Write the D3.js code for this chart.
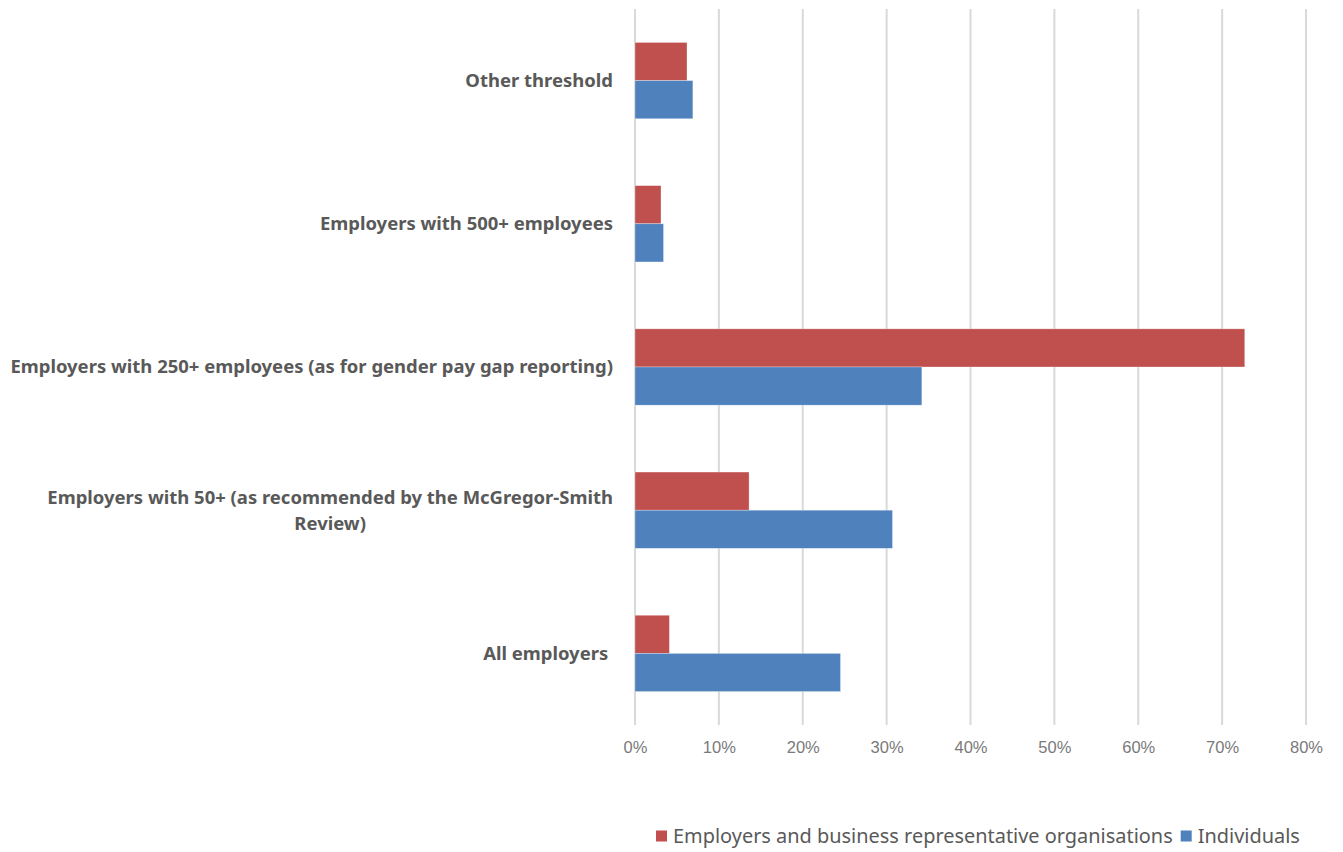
<!DOCTYPE html>
<html>
<head>
<meta charset="utf-8">
<script src="https://cdn.jsdelivr.net/npm/d3@7"></script>
<style>
  body { margin: 0; background: #fff; }
  svg { display: block; }
</style>
</head>
<body>
<svg id="chart" width="1343" height="852"></svg>
<script>
// categories, top to bottom
const categories = [
    "Other threshold",
    "Employers with 500+ employees",
    "Employers with 250+ employees (as for gender pay gap reporting)",
    "Employers with 50+ (as recommended by the McGregor-Smith|Review)",
    "All employers "
];
const seriesNames = ["Employers and business representative organisations", "Individuals"];
const employerOrgs = [6.2, 3.1, 72.7, 13.6, 4.1];
const individuals = [6.9, 3.4, 34.2, 30.7, 24.5];
const xTicks = [0, 10, 20, 30, 40, 50, 60, 70, 80];
const colors = ["#C0504D", "#4F81BD"];

const svg = d3.select("#chart");
const margin = { left: 635, right: 37, top: 9, bottom: 127 };
const width = 1343, height = 852;

const x = d3.scaleLinear().domain([0, 80]).range([margin.left, width - margin.right]);
const y = d3.scaleBand().domain(d3.range(categories.length))
    .range([margin.top, height - margin.bottom]).paddingInner(0.467).paddingOuter(0.2335);
const ySub = d3.scaleBand().domain([0, 1]).range([0, y.bandwidth()]);

// gridlines
svg.append("g").selectAll("line").data(xTicks).join("line")
    .attr("x1", d => x(d)).attr("x2", d => x(d))
    .attr("y1", margin.top).attr("y2", height - margin.bottom)
    .attr("stroke", "#d9d9d9").attr("stroke-width", 2);

// bars
const rows = categories.map((c, i) => [employerOrgs[i], individuals[i]]);
const groups = svg.append("g").selectAll("g").data(rows).join("g")
    .attr("transform", (d, i) => `translate(0,${y(i)})`);
groups.selectAll("rect").data(d => d).join("rect")
    .attr("x", x(0))
    .attr("y", (d, j) => ySub(j))
    .attr("width", d => x(d) - x(0))
    .attr("height", ySub.bandwidth())
    .attr("fill", (d, j) => colors[j])
    .attr("stroke", "#ffffff").attr("stroke-opacity", 0.5).attr("stroke-width", 0.6);

// x axis labels
const xAxis = svg.append("g")
    .attr("transform", `translate(0,${height - margin.bottom})`)
    .call(d3.axisBottom(x).tickValues(xTicks).tickFormat(d => d + "%").tickSize(0).tickPadding(16));
xAxis.select(".domain").remove();
xAxis.selectAll("text")
    .attr("font-family", "Liberation Sans, Arial, sans-serif")
    .attr("font-size", 16.5)
    .attr("fill", "#7a7a7a");

// category labels
const catFont = "Noto Sans, sans-serif";
const labelRight = 613;
const catG = svg.append("g");
let catSize = 17;
const labels = categories.map((c, i) => {
    const lines = c.split("|");
    const t = catG.append("text")
        .attr("font-family", catFont).attr("font-weight", "bold")
        .attr("font-size", catSize).attr("fill", "#595959")
        .style("white-space", "pre");
    lines.forEach(l => t.append("tspan").text(l));
    return { t, lines, i };
});
// fit widest label to the reference width
const widest = d3.max(labels, l => d3.max(l.t.selectAll("tspan").nodes(), n => n.getComputedTextLength()));
catSize = catSize * 603 / widest;
labels.forEach(({ t, lines, i }) => {
    t.attr("font-size", catSize);
    const spans = t.selectAll("tspan").nodes();
    const ws = spans.map(n => n.getComputedTextLength());
    const blockW = d3.max(ws);
    const lh = 26;
    const cy = y(i) + y.bandwidth() / 2;
    spans.forEach((n, k) => {
        d3.select(n)
            .attr("x", labelRight - blockW / 2)
            .attr("text-anchor", "middle")
            .attr("y", cy + (k - (lines.length - 1) / 2) * lh)
            .attr("dy", "0.35em");
    });
});

// legend
const legY = 836;
const leg = svg.append("g");
let legSize = 19;
const legItems = seriesNames.map((s, j) => {
    const g = leg.append("g");
    g.append("rect").attr("width", 11).attr("height", 11).attr("y", legY - 5.5).attr("fill", colors[j]);
    const t = g.append("text").attr("x", 17).attr("y", legY).attr("dy", "0.35em")
        .attr("font-family", "Noto Sans, sans-serif").attr("font-size", legSize).attr("fill", "#595959")
        .text(s);
    return { g, t };
});
legSize = legSize * 500 / legItems[0].t.node().getComputedTextLength();
let lx = 656;
legItems.forEach(({ g, t }) => {
    t.attr("font-size", legSize);
    g.attr("transform", `translate(${lx},0)`);
    lx += 17 + t.node().getComputedTextLength() + 8;
});
</script>
</body>
</html>
